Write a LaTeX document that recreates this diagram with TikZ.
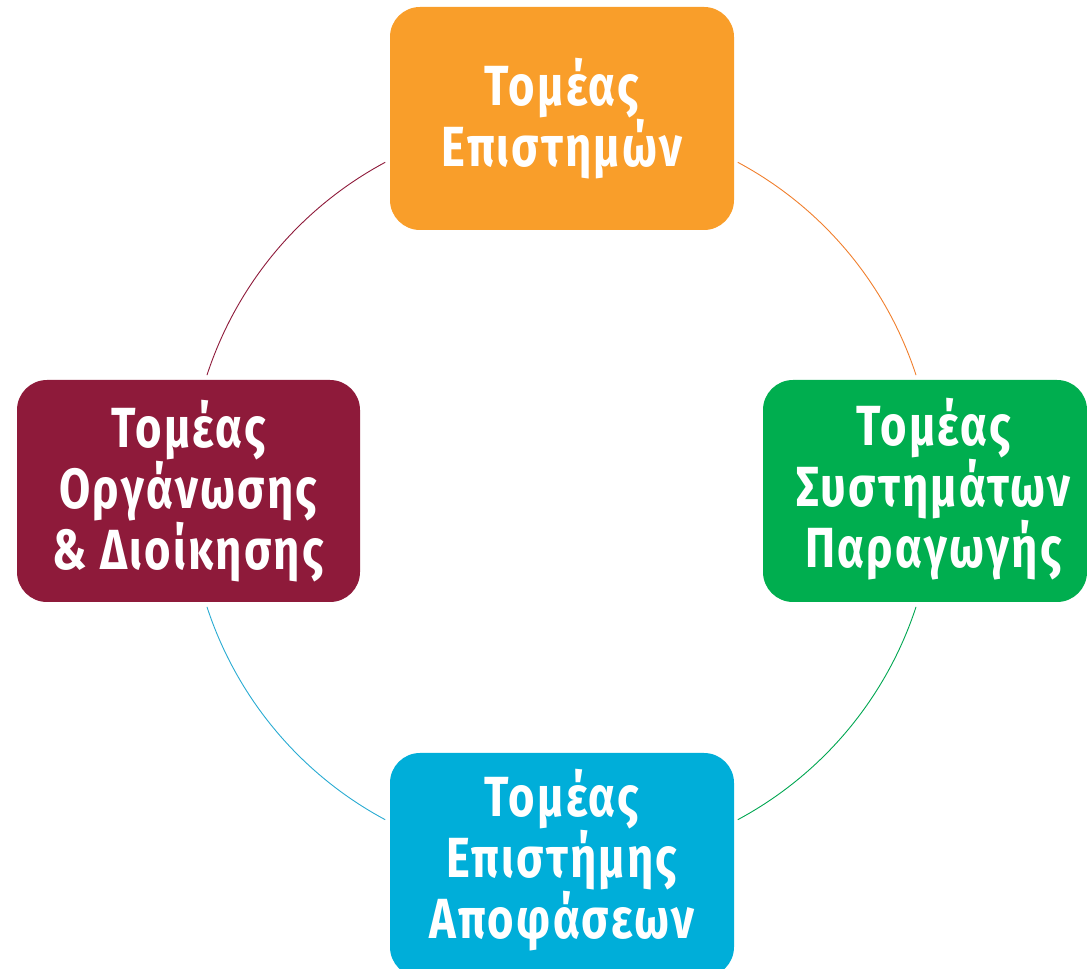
\documentclass[tikz,border=0pt]{standalone}
\usepackage{fontspec}
\usetikzlibrary{calc}
\newfontfamily\boxfont[FakeStretch=0.8,LetterSpace=4]{Fira Sans}
\definecolor{cOrange}{HTML}{F99E2A}
\definecolor{cGreen}{HTML}{00AE4F}
\definecolor{cBlue}{HTML}{00AED9}
\definecolor{cMaroon}{HTML}{8E1A3A}
\definecolor{aOrange}{HTML}{F07F2D}
\definecolor{aGreen}{HTML}{00A651}
\definecolor{aBlue}{HTML}{29ABD2}
\begin{document}
\begin{tikzpicture}[x=1pt,y=1pt,
  box/.style={rounded corners=30pt, minimum width=344pt, minimum height=223pt, inner sep=0pt, draw=none},
  lbl/.style={text=white, align=center, font=\boxfont\bfseries\fontsize{56.6}{58}\selectfont, inner sep=0pt},
  ring/.style={line width=0.9pt}]
\useasboundingbox (0,0) rectangle (1087,969);
% boxes
\node[box, fill=cOrange] (top) at (562,850.5) {};
\node[box, fill=cGreen, minimum width=324pt, minimum height=222pt] (right) at (925,478) {};
\node[box, fill=cBlue, minimum height=224pt] (bottom) at (562,104) {};
\node[box, fill=cMaroon, minimum width=343pt, minimum height=222pt] (left) at (188.5,478) {};
% labels
\node[lbl] (ttop) at (top.center) {Τομέας\\Επιστημών};
\node[lbl] (tright) at (933.5,480) {Τομέας\\Συστημάτων\\Παραγωγής};
\node[lbl] (tbottom) at (562,108.5) {Τομέας\\Επιστήμης\\Αποφάσεων};
\node[lbl] (tleft) at (left.center) {Τομέας\\Οργάνωσης\\\& Διοίκησης};
% ring connectors
\coordinate (c) at (561.5,478);
\coordinate (a1) at ($(c)+(161.9:373)$);
\draw[ring, cMaroon] (a1) arc[start angle=161.9, end angle=118.2, radius=373];
\coordinate (a2) at ($(c)+(61.8:373)$);
\draw[ring, aOrange] (a2) arc[start angle=61.8, end angle=18.1, radius=373];
\coordinate (a3) at ($(c)+(-18.1:373)$);
\draw[ring, aGreen] (a3) arc[start angle=-18.1, end angle=-61.8, radius=373];
\coordinate (a4) at ($(c)+(-118.2:373)$);
\draw[ring, aBlue] (a4) arc[start angle=-118.2, end angle=-161.9, radius=373];
\end{tikzpicture}
\end{document}
